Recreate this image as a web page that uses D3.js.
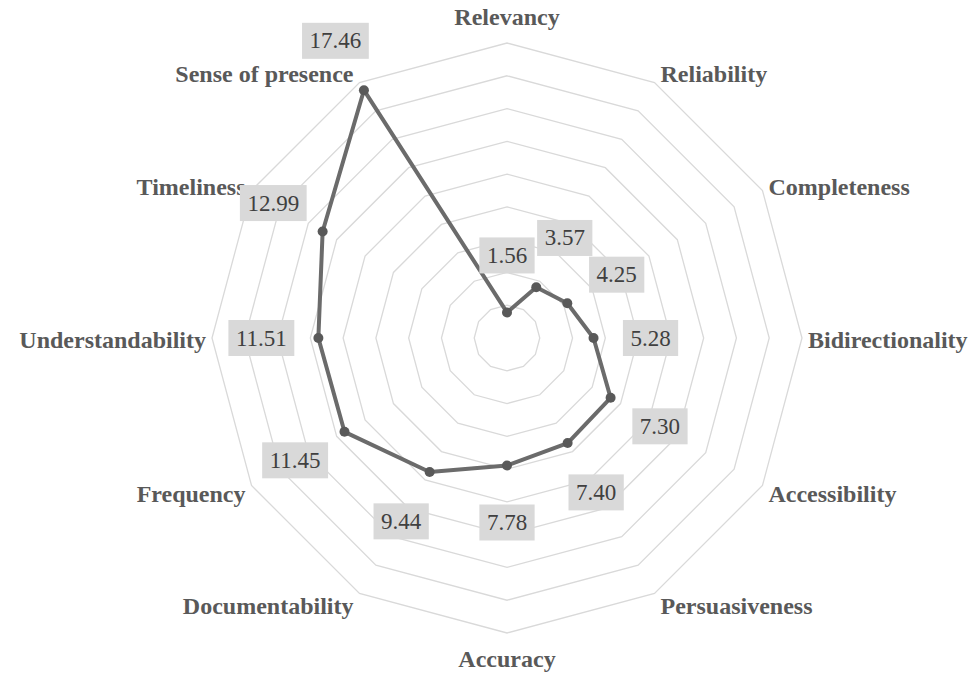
<!DOCTYPE html>
<html>
<head>
<meta charset="utf-8">
<script src="https://cdn.jsdelivr.net/npm/d3@7"></script>
<style>
  body { margin: 0; background: #fff; }
  svg { display: block; }
  text { font-family: 'Liberation Serif', 'Times New Roman', Times, 'DejaVu Serif', serif; }
</style>
</head>
<body>
<div id="radar"></div>
<script>
// categories, clockwise from the top
const categories = ['Relevancy', 'Reliability', 'Completeness', 'Bidirectionality',
  'Accessibility', 'Persuasiveness', 'Accuracy', 'Documentability', 'Frequency',
  'Understandability', 'Timeliness', 'Sense of presence'];
const values = [1.56, 3.57, 4.25, 5.28, 7.30, 7.40, 7.78, 9.44, 11.45, 11.51, 12.99, 17.46];
// grid rings
const ringLevels = [2, 4, 6, 8, 10, 12, 14, 16, 18];

const width = 977;
const height = 675;
const cx = 507;
const cy = 338;
const outer = 295;

const svg = d3.select('#radar')
  .append('svg')
  .attr('width', width)
  .attr('height', height);

const rScale = d3.scaleLinear().domain([0, d3.max(ringLevels)]).range([0, outer]);
const angle = d3.scalePoint().domain(categories).range([0, 2 * Math.PI * (11 / 12)]);

const px = (c, v) => cx + rScale(v) * Math.sin(angle(c));
const py = (c, v) => cy - rScale(v) * Math.cos(angle(c));

const g = svg.append('g');

// the rings
const ringLine = d3.lineRadial()
  .angle(d => angle(d[0]))
  .radius(d => rScale(d[1]))
  .curve(d3.curveLinearClosed);

g.append('g')
  .attr('transform', `translate(${cx},${cy})`)
  .selectAll('path')
  .data(ringLevels)
  .join('path')
  .attr('d', lv => ringLine(categories.map(c => [c, lv])))
  .attr('fill', 'none')
  .attr('stroke', '#d9d9d9')
  .attr('stroke-width', 1.3);

// category labels outside the outer ring
const labels = g.append('g')
  .selectAll('text')
  .data(categories)
  .join('text')
  .attr('font-weight', 'bold')
  .attr('font-size', 24)
  .attr('fill', '#595959')
  .attr('dominant-baseline', 'central')
  .text(d => d);

labels.each(function (c) {
  const a = angle(c);
  const s = Math.sin(a);
  const co = Math.cos(a);
  const vx = px(c, d3.max(ringLevels));
  const vy = py(c, d3.max(ringLevels));
  let anchor = 'middle';
  let x = vx;
  let y = vy - co * 12 + 2;
  if (s > 0.01) { anchor = 'start'; x = vx + 6; }
  else if (s < -0.01) { anchor = 'end'; x = vx - 6; }
  else { y = vy - co * 26; }
  d3.select(this).attr('x', x).attr('y', y).attr('text-anchor', anchor);
});

// data line
const pts = categories.map((c, i) => [c, values[i]]);
g.append('path')
  .attr('transform', `translate(${cx},${cy})`)
  .attr('d', ringLine(pts))
  .attr('fill', 'none')
  .attr('stroke', '#6b6b6b')
  .attr('stroke-width', 4)
  .attr('stroke-linejoin', 'round');

g.append('g')
  .selectAll('circle')
  .data(pts)
  .join('circle')
  .attr('cx', d => px(d[0], d[1]))
  .attr('cy', d => py(d[0], d[1]))
  .attr('r', 5)
  .attr('fill', '#595959');

// value labels in grey boxes, pushed out along the spoke
const labelOffset = 57;
const vl = g.append('g')
  .selectAll('g')
  .data(pts)
  .join('g')
  .attr('transform', d => {
    const a = angle(d[0]);
    const x = px(d[0], d[1]) + labelOffset * Math.sin(a);
    const y = py(d[0], d[1]) - labelOffset * Math.cos(a);
    return `translate(${x},${y})`;
  });

vl.append('rect').attr('fill', '#d9d9d9');
vl.append('text')
  .attr('font-size', 23)
  .attr('fill', '#404040')
  .attr('text-anchor', 'middle')
  .attr('dominant-baseline', 'central')
  .text(d => d[1].toFixed(2));

vl.each(function () {
  const t = d3.select(this).select('text').node();
  const w = t.getComputedTextLength() + 15;
  const h = 36;
  d3.select(this).select('rect')
    .attr('x', -w / 2)
    .attr('y', -h / 2)
    .attr('width', w)
    .attr('height', h);
});
</script>
</body>
</html>
